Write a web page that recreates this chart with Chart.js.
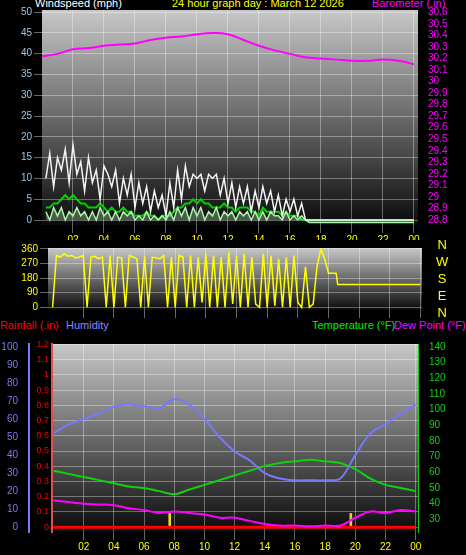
<!DOCTYPE html>
<html><head><meta charset="utf-8">
<script src="https://cdn.jsdelivr.net/npm/chart.js@4/dist/chart.umd.min.js"></script>
<style>
body{margin:0;background:#000;width:466px;height:555px;overflow:hidden;position:relative;font-family:"Liberation Sans",Arial,sans-serif}
.c{position:absolute;left:0}
.t{position:absolute;font-size:11px;white-space:nowrap}
</style></head><body>
<div class="t" style="left:35px;top:-3px;color:#fff">Windspeed (mph)</div>
<div class="t" style="left:172px;top:-3px;color:#ff0">24 hour graph day : March 12 2026</div>
<div class="t" style="left:372px;top:-3px;color:#f0f">Barometer (.in)</div>
<div class="t" style="left:0;top:319px;color:#f00">Rainfall (.in)</div>
<div class="t" style="left:66px;top:319px;color:#88f">Humidity</div>
<div class="t" style="left:312px;top:319px;color:#0e0">Temperature (°F)</div>
<div class="t" style="left:394px;top:319px;color:#f0f">Dew Point (°F)</div>
<div class="c" style="top:0;width:466px;height:240px"><canvas id="wind"></canvas></div>
<div class="c" style="top:240px;width:466px;height:78px"><canvas id="dir"></canvas></div>
<div class="c" style="top:335px;width:466px;height:220px"><canvas id="temp"></canvas></div>
<div class="t" style="left:436px;top:236px;color:#ff0;line-height:17px;font-size:13px;text-align:center">N<br>W<br>S<br>E<br>N</div>
<script>
// wind, 15 minute steps from 00:15 to 17:00
const windGust = [10,16,8,15, 12,17,9,18, 11,14,7,15, 9,12,5,13, 11,8,12,4, 10,6,11,3, 9,4,8,2, 7,3,6,1,
  9,3,12,5, 13,8,11,10, 11,7,11,10, 11,6,10,4, 9,3,8,4, 8,2,7,3, 8,4,7,2, 6,1,5,2, 5,1,4,0];
const windAvg = [3,3,4,4, 5,6,5,6, 5,4,4,3, 3,3,4,3, 2,3,2,2, 3,2,2,1, 1,1,2,1, 1,0,1,1,
  1,2,3,3, 4,4,5,4, 5,4,4,3, 3,3,4,3, 3,2,3,3, 3,2,2,1, 3,2,2,2, 2,1,2,1, 1,1,0,0];
const windSpeed = [2,0,3,1, 3,0,2,1, 3,1,2,0, 2,0,3,1, 2,0,2,0, 2,1,2,0, 1,0,2,0, 1,0,1,0,
  2,0,3,1, 3,0,3,1, 3,0,2,1, 3,0,2,1, 2,0,2,1, 2,0,2,0, 2,0,2,1, 1,0,2,0, 1,0,1,0];
// barometer, hourly 00..24
const baro = [30.22,30.24,30.28,30.29,30.31,30.32,30.33,30.36,30.38,30.39,30.41,30.42,30.41,30.36,30.31,30.27,30.24,30.21,30.20,30.19,30.18,30.18,30.19,30.18,30.15];
// direction, 15 minute steps from 00:00 to 17:45, then the late part
const dirVals = [0,320,310,330, 315,320,305,310, 320,0,310,315, 300,310,0,320, 0,310,305,0, 320,310,300,0,
  315,0,310,305, 300,320,0,310, 0,320,310,0, 320,0,310,30, 330,0,320,0, 310,0,340,20, 320,0,330,0,
  310,20,0,330, 0,320,10,300, 0,310,0,320, 30,0,250,0, 20,250,360,300];
const dirLateHours = [18, 18.5, 18.6, 24];
const dirLate = [210, 210, 140, 140];
// hourly 00..24
const humidity = [52,57,60,63,67,68,67,66,71,68,60,50,42,37,30,27,26,26,26,27,40,52,57,63,68];
const temperature = [61,59,57,55,53,51,50,48,46,49,52,55,58,61,64,66,67,68,67,66,62,56,52,50,48];
const dewPoint = [42,41,40,39.5,39,37,36,34,35,34,33,31,31,29,27,26,26,25.5,26,26,31,35,34,36,35];
const rainfall = [0,0,0,0,0,0,0,0,0,0,0,0,0,0,0,0,0,0,0,0,0,0,0,0,0];
const sunMarks = [7.7, 19.7];
const hourTicks = [2,4,6,8,10,12,14,16,18,20,22,24];

const F = {family:'"Liberation Sans", Arial, sans-serif', size:10};
const pad2 = v => String(v % 24).padStart(2,'0');
const q = (arr, start) => arr.map((y,i) => ({x: start + i*0.25, y}));
const hourly = arr => arr.map((y,i) => ({x:i, y}));

const bgPlugin = {id:'bg', beforeDraw(c){
  const a = c.chartArea, g = c.ctx.createLinearGradient(0,a.top,0,a.bottom);
  g.addColorStop(0,'#c8c8c8'); g.addColorStop(1,'#0a0a0a');
  c.ctx.fillStyle = g; c.ctx.fillRect(a.left,a.top,a.right-a.left,a.bottom-a.top);
}};
const grid = {color:'rgba(255,255,255,0.35)', borderDash:[1,2], drawTicks:true, tickColor:'#666', offset:false};
const fixW = w => ({afterFit(s){ s.width = w; }});
const fixH = h => ({afterFit(s){ s.height = h; }});
const xAxis = (min,max,show,h) => Object.assign({type:'linear',min,max,offset:false,afterBuildTicks(s){ s.ticks = hourTicks.map(v=>({value:v})); },
  ticks:{display:show,color:'#ff0',font:F,callback:v=>pad2(v),maxRotation:0,padding:1,autoSkip:false},
  grid, border:{display:false}}, fixH(h));
const base = {responsive:true,maintainAspectRatio:false,animation:false,plugins:{legend:{display:false},tooltip:{enabled:false}},
  layout:{padding:0}, elements:{point:{radius:0}}};

const gustPts = q(windGust,0.25).concat([{x:17.25,y:0},{x:24,y:0}]);
new Chart(document.getElementById('wind'), {type:'line', plugins:[bgPlugin],
  data:{datasets:[
    {data:hourly(baro), yAxisID:'baro', borderColor:'#f0f', borderWidth:2, tension:0.4},
    {data:gustPts, yAxisID:'wind', borderColor:'#f4f4f4', borderWidth:1.5},
    {data:q(windSpeed,0.25).concat([{x:17.25,y:-0.6},{x:24,y:-0.6}]), yAxisID:'wind', borderColor:'#b0f0b0', backgroundColor:'rgba(170,235,170,0.35)', fill:'origin', borderWidth:1.5},
    {data:q(windAvg,0.25).concat([{x:17.25,y:0},{x:24,y:0}]), yAxisID:'wind', borderColor:'#00d000', borderWidth:2}
  ]},
  options:Object.assign({}, base, {layout:{padding:{top:10}}, scales:{
    x: xAxis(0,24.26,true,15),
    wind: Object.assign({position:'left',min:-1.2,max:50.5,afterBuildTicks(s){ s.ticks=[0,5,10,15,20,25,30,35,40,45,50].map(v=>({value:v})); },
      ticks:{color:'#9cc4e4',font:F,padding:2,autoSkip:false}, grid, border:{display:false}}, fixW(42)),
    baro: Object.assign({position:'right',min:28.757,max:30.62,afterBuildTicks(s){ const t=[]; for(let i=0;i<=18;i++) t.push({value:+(28.8+i*0.1).toFixed(1)}); s.ticks=t; },
      ticks:{color:'#f0f',font:F,padding:2,autoSkip:false,callback:v=>String(+v.toFixed(1))}, grid:{display:false}, border:{display:false}}, fixW(48))
  }})
});

new Chart(document.getElementById('dir'), {type:'line', plugins:[bgPlugin],
  data:{datasets:[
    {data:q(dirVals,0).concat(dirLateHours.map((x,i)=>({x,y:dirLate[i]}))), yAxisID:'dir', borderColor:'#ffff00', borderWidth:1.5}
  ]},
  options:Object.assign({}, base, {layout:{padding:{top:5,right:44}}, scales:{
    x: xAxis(-0.3,24.1,false,5),
    dir: Object.assign({position:'left',min:-17,max:366,afterBuildTicks(s){ s.ticks=[0,90,180,270,360].map(v=>({value:v})); },
      ticks:{color:'#ff0',font:F,padding:2,autoSkip:false}, grid, border:{display:false}}, fixW(48))
  }})
});

new Chart(document.getElementById('temp'), {type:'line', plugins:[bgPlugin],
  data:{datasets:[
    {data:hourly(humidity), yAxisID:'hum', borderColor:'#7878ff', borderWidth:2, tension:0.35},
    {data:hourly(temperature), yAxisID:'temp', borderColor:'#10d010', borderWidth:2, tension:0.35},
    {data:hourly(dewPoint), yAxisID:'temp', borderColor:'#f0f', borderWidth:2, tension:0.35},
    {data:hourly(rainfall), yAxisID:'rain', borderColor:'#ff0000', borderWidth:3},
    {type:'bar', data:sunMarks.map(h=>({x:h,y:0.09})), yAxisID:'rain', backgroundColor:'#e8d820', barThickness:2, grouped:false}
  ]},
  options:Object.assign({}, base, {layout:{padding:{top:5}}, scales:{
    x: xAxis(-0.1,24.15,true,23),
    hum: Object.assign({position:'left',weight:2,min:-2.7,max:101.6,afterBuildTicks(s){ s.ticks=[0,10,20,30,40,50,60,70,80,90,100].map(v=>({value:v})); },
      ticks:{color:'#7878ff',font:F,padding:3,autoSkip:false}, grid:{display:false}, border:{color:'#7878ff',width:2}}, fixW(29)),
    rain: Object.assign({position:'left',weight:1,min:-0.032,max:1.203,afterBuildTicks(s){ const t=[]; for(let i=0;i<=12;i++) t.push({value:+(i*0.1).toFixed(1)}); s.ticks=t; },
      ticks:{color:'#e00',font:{family:F.family,size:9},padding:3,autoSkip:false,callback:v=>String(+v.toFixed(1))},
      grid:{color:'rgba(255,255,255,0.35)',borderDash:[1,2],drawTicks:false}, border:{color:'#e05050',width:2}}, fixW(23)),
    temp: Object.assign({position:'right',min:21.9,max:141.9,afterBuildTicks(s){ const t=[]; for(let v=30;v<=140;v+=10) t.push({value:v}); s.ticks=t; },
      ticks:{color:'#10d010',font:F,padding:3,autoSkip:false}, grid:{display:false}, border:{color:'#10d010',width:1}}, fixW(48))
  }})
});
</script>
</body></html>
